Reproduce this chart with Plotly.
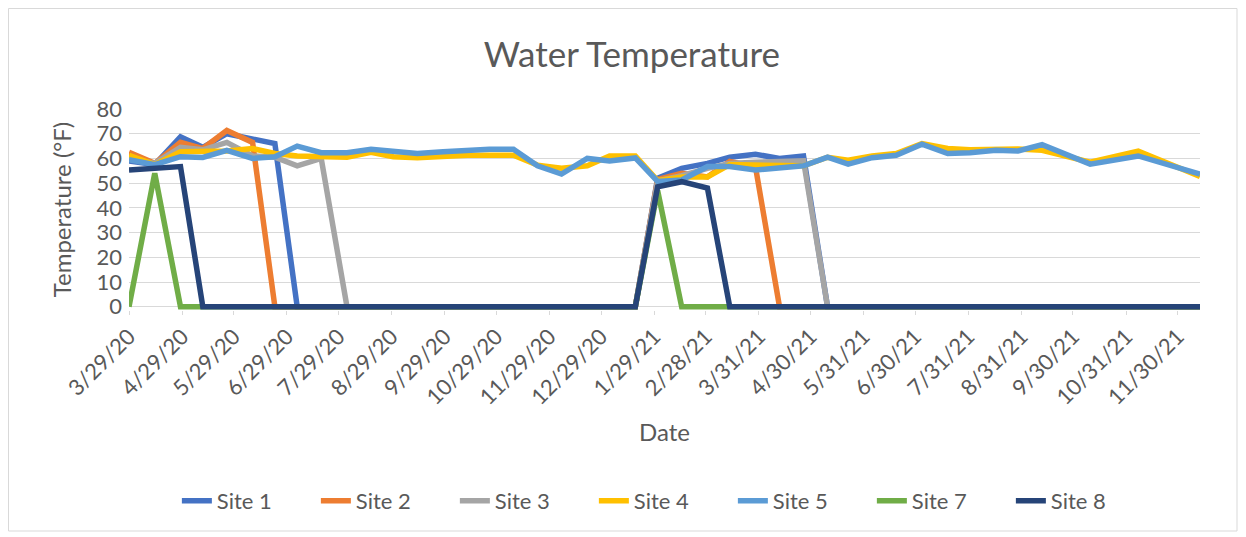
import plotly.graph_objects as go

dates = [
    "2020-03-29", "2020-04-13", "2020-04-28", "2020-05-11", "2020-05-25", "2020-06-09",
    "2020-06-22", "2020-07-05", "2020-07-19", "2020-08-03", "2020-08-17", "2020-08-30",
    "2020-09-13", "2020-09-28", "2020-10-12", "2020-10-25", "2020-11-08", "2020-11-22",
    "2020-12-06", "2020-12-21", "2021-01-03", "2021-01-18", "2021-01-31", "2021-02-14",
    "2021-03-01", "2021-03-14", "2021-03-29", "2021-04-12", "2021-04-26", "2021-05-10",
    "2021-05-22", "2021-06-05", "2021-06-19", "2021-07-04", "2021-07-19", "2021-08-01",
    "2021-08-16", "2021-08-29", "2021-09-12", "2021-10-10", "2021-11-07", "2021-12-13",
]

site1 = [59, 57.5, 68.7, 64.5, 70, 68, 66, 0, 0, 0, 0, 0,
         0, 0, 0, 0, 0, 0, 0, 0, 0, 0, 52, 56,
         58, 60.5, 61.7, 60, 61, 0, 0, 0, 0, 0, 0, 0,
         0, 0, 0, 0, 0, 0]
site2 = [62.5, 58, 66.5, 64, 71.3, 66.5, 0, 0, 0, 0, 0, 0,
         0, 0, 0, 0, 0, 0, 0, 0, 0, 0, 51.5, 54,
         52.5, 58.8, 56.6, 0, 0, 0, 0, 0, 0, 0, 0, 0,
         0, 0, 0, 0, 0, 0]
site3 = [60, 58, 64.5, 63.5, 66.5, 61, 60.5, 57, 60, 0, 0, 0,
         0, 0, 0, 0, 0, 0, 0, 0, 0, 0, 51, 53,
         56, 58, 58.5, 59, 59, 0, 0, 0, 0, 0, 0, 0,
         0, 0, 0, 0, 0, 0]
site4 = [61.3, 57.5, 62.7, 62.7, 63, 64, 62, 61, 60.8, 60.5, 62.5, 60.7,
         60.3, 61, 61.3, 61.3, 61.3, 57.3, 56, 57, 61, 61, 51, 52.5,
         52.5, 57.5, 57.3, 57, 57, 60.5, 59.3, 61, 62, 66, 64, 63.5,
         63.8, 63.8, 63.3, 58.5, 63, 52.7]
site5 = [59.5, 57.5, 60.7, 60.4, 63.3, 60, 60.7, 65, 62.3, 62.3, 63.7, 63,
         62, 62.7, 63.5, 63.7, 63.7, 57, 53.7, 60, 59, 60.2, 50.7, 51.3,
         56.7, 56.7, 55.3, 56.4, 57, 60.5, 57.7, 60.3, 61.3, 65.8, 62, 62.3,
         63.3, 63, 65.6, 57.7, 61, 53.7]
site7 = [0, 54, 0, 0, 0, 0, 0, 0, 0, 0, 0, 0,
         0, 0, 0, 0, 0, 0, 0, 0, 0, 0, 47, 0,
         0, 0, 0, 0, 0, 0, 0, 0, 0, 0, 0, 0,
         0, 0, 0, 0, 0, 0]
site8 = [55.3, 56, 56.7, 0, 0, 0, 0, 0, 0, 0, 0, 0,
         0, 0, 0, 0, 0, 0, 0, 0, 0, 0, 48.5, 50.6,
         48, 0, 0, 0, 0, 0, 0, 0, 0, 0, 0, 0,
         0, 0, 0, 0, 0, 0]

series_names = ["Site 1", "Site 2", "Site 3", "Site 4", "Site 5", "Site 7", "Site 8"]
series_values = [site1, site2, site3, site4, site5, site7, site8]
series_colors = ["#4472C4", "#ED7D31", "#A5A5A5", "#FFC000", "#5B9BD5", "#70AD47", "#264478"]

tick_dates = [
    "2020-03-29", "2020-04-29", "2020-05-29", "2020-06-29", "2020-07-29", "2020-08-29",
    "2020-09-29", "2020-10-29", "2020-11-29", "2020-12-29", "2021-01-29", "2021-02-28",
    "2021-03-31", "2021-04-30", "2021-05-31", "2021-06-30", "2021-07-31", "2021-08-31",
    "2021-09-30", "2021-10-31", "2021-11-30",
]
tick_labels = [
    "3/29/20", "4/29/20", "5/29/20", "6/29/20", "7/29/20", "8/29/20", "9/29/20",
    "10/29/20", "11/29/20", "12/29/20", "1/29/21", "2/28/21", "3/31/21", "4/30/21",
    "5/31/21", "6/30/21", "7/31/21", "8/31/21", "9/30/21", "10/31/21", "11/30/21",
]

FONT = "Lato, 'Open Sans', sans-serif"
TXT = "#595959"
GRID = "#D9D9D9"

# page body has an 8px margin, so the figure is drawn from (8, 8)
W, H = 1238, 529

fig = go.Figure()
for name, vals, col in zip(series_names, series_values, series_colors):
    fig.add_trace(go.Scatter(
        x=dates, y=vals, name=name, mode="lines",
        line=dict(color=col, width=5.5),
    ))

fig.update_layout(
    template="none",
    width=W, height=H,
    margin=dict(l=121, r=46, t=101, b=227, autoexpand=False),
    paper_bgcolor="white", plot_bgcolor="white",
    font=dict(family=FONT, color=TXT, size=22),
    title=dict(text="Water Temperature", x=0.504, xanchor="center",
               y=1 - 47 / H, yanchor="middle",
               font=dict(family=FONT, size=35, color=TXT)),
    showlegend=True,
    legend=dict(orientation="h", x=0.0447, xanchor="left", y=-0.95, yanchor="middle",
                font=dict(family=FONT, size=22, color=TXT),
                entrywidth=94, entrywidthmode="pixels",
                bgcolor="rgba(0,0,0,0)"),
    xaxis=dict(
        type="date", range=[dates[0], dates[-1]], automargin=False,
        tickmode="array", tickvals=tick_dates, ticktext=tick_labels,
        tickangle=-45, tickfont=dict(family=FONT, size=22, color=TXT),
        showgrid=False, showline=False, zeroline=False,
        ticks="outside", ticklen=4, tickcolor=GRID, tickwidth=1,
        title=dict(text="Date", font=dict(family=FONT, size=24, color=TXT), standoff=15),
    ),
    yaxis=dict(
        range=[-1.3, 80], automargin=False,
        tickmode="array", tickvals=[0, 10, 20, 30, 40, 50, 60, 70, 80],
        showgrid=True, gridcolor=GRID, gridwidth=1,
        zeroline=True, zerolinecolor=GRID, zerolinewidth=1,
        showline=False, ticks="", ticklabelstandoff=6,
        tickfont=dict(family=FONT, size=22, color=TXT),
        title=dict(text="Temperature (°F)", font=dict(family=FONT, size=24, color=TXT), standoff=18),
    ),
    shapes=[dict(type="rect", xref="paper", yref="paper",
                 x0=(8.5 - 129) / 1071, x1=(1237 - 129) / 1071,
                 y0=(310 - 531) / 201, y1=(310 - 8.5) / 201,
                 line=dict(color=GRID, width=1), fillcolor="rgba(0,0,0,0)", layer="below")],
)

fig.write_html("out.html")
